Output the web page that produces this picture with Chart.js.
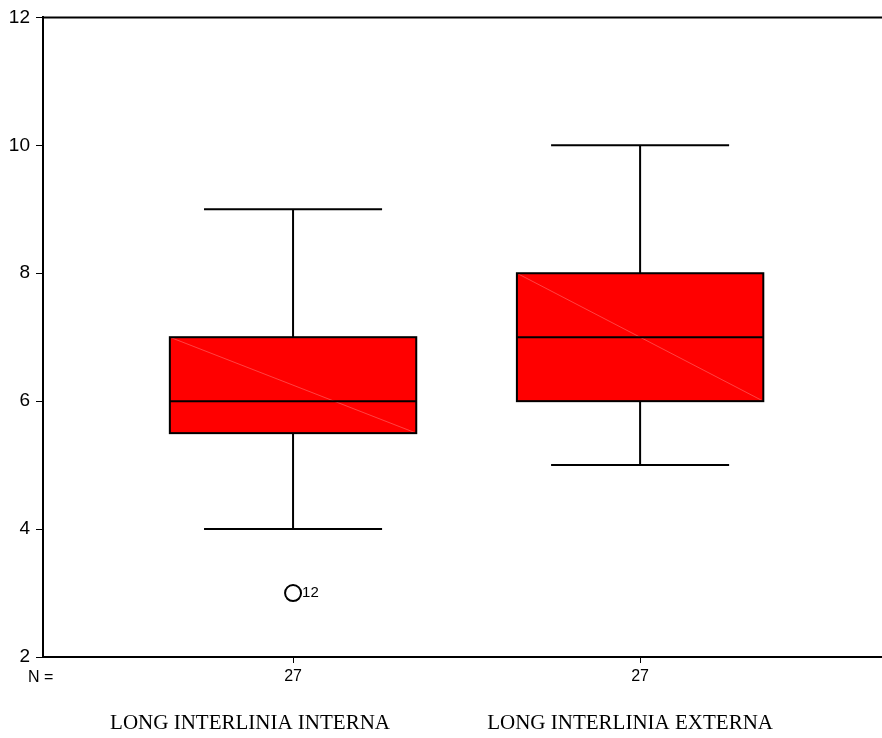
<!DOCTYPE html>
<html>
<head>
<meta charset="utf-8">
<script src="https://cdn.jsdelivr.net/npm/chart.js@4"></script>
<style>
    html, body { margin: 0; padding: 0; background: #fff; }
    #wrap { width: 882px; height: 738px; }
</style>
</head>
<body>
<div id="wrap"><canvas id="boxChart" width="882" height="738"></canvas></div>
<script>
// box plot summaries per group
const groups = ['LONG INTERLINIA INTERNA', 'LONG INTERLINIA EXTERNA'];
const counts = [27, 27];
const mins = [4, 5];
const q1s = [5.5, 6];
const medians = [6, 7];
const q3s = [7, 8];
const maxs = [9, 10];
// outliers: group index, value, case number
const outlierGroup = [0];
const outlierValue = [3];
const outlierCase = [12];
const yTicks = [2, 4, 6, 8, 10, 12];

const SANS = '"Liberation Sans", Arial, sans-serif';
const SERIF = '"Liberation Serif", "Times New Roman", serif';
const BOX_W = 0.71;   // box width in x units
const CAP_W = 0.513;  // whisker cap width in x units
const labelShift = [-43, -10];

const boxPlugin = {
    id: 'boxes',
    beforeDatasetsDraw(chart) {
        const ctx = chart.ctx;
        const xs = chart.scales.x, ys = chart.scales.y;
        ctx.save();
        ctx.strokeStyle = '#000';
        ctx.lineWidth = 2;
        groups.forEach((g, i) => {
            const cx = xs.getPixelForValue(i + 1);
            const half = (xs.getPixelForValue(1 + BOX_W / 2) - xs.getPixelForValue(1));
            const capHalf = (xs.getPixelForValue(1 + CAP_W / 2) - xs.getPixelForValue(1));
            const yMin = ys.getPixelForValue(mins[i]);
            const yQ1 = ys.getPixelForValue(q1s[i]);
            const yMed = ys.getPixelForValue(medians[i]);
            const yQ3 = ys.getPixelForValue(q3s[i]);
            const yMax = ys.getPixelForValue(maxs[i]);

            // whiskers and caps
            ctx.beginPath();
            ctx.moveTo(cx, yMax); ctx.lineTo(cx, yQ3);
            ctx.moveTo(cx, yQ1); ctx.lineTo(cx, yMin);
            ctx.moveTo(cx - capHalf, yMax); ctx.lineTo(cx + capHalf, yMax);
            ctx.moveTo(cx - capHalf, yMin); ctx.lineTo(cx + capHalf, yMin);
            ctx.stroke();

            // box
            ctx.fillStyle = '#ff0000';
            ctx.fillRect(cx - half, yQ3, half * 2, yQ1 - yQ3);
            // faint diagonal seam inside the fill
            ctx.save();
            ctx.strokeStyle = 'rgba(255,110,110,0.6)';
            ctx.lineWidth = 1;
            ctx.beginPath();
            ctx.moveTo(cx - half, yQ3);
            ctx.lineTo(cx + half, yQ1);
            ctx.stroke();
            ctx.restore();
            ctx.strokeRect(cx - half, yQ3, half * 2, yQ1 - yQ3);

            // median
            ctx.beginPath();
            ctx.moveTo(cx - half, yMed); ctx.lineTo(cx + half, yMed);
            ctx.stroke();
        });
        ctx.restore();
    },
    afterDraw(chart) {
        const ctx = chart.ctx;
        const xs = chart.scales.x, ys = chart.scales.y;
        const area = chart.chartArea;
        ctx.save();
        // top frame line
        ctx.strokeStyle = '#000';
        ctx.lineWidth = 2;
        ctx.beginPath();
        ctx.moveTo(area.left, area.top);
        ctx.lineTo(chart.width, area.top);
        ctx.stroke();

        // case labels next to outliers
        ctx.fillStyle = '#000';
        ctx.font = '15px ' + SANS;
        ctx.textAlign = 'left';
        ctx.textBaseline = 'middle';
        outlierValue.forEach((v, k) => {
            const px = xs.getPixelForValue(outlierGroup[k] + 1);
            const py = ys.getPixelForValue(v);
            ctx.fillText(String(outlierCase[k]), px + 9, py);
        });

        // N = row header
        ctx.font = '16px ' + SANS;
        ctx.textBaseline = 'alphabetic';
        ctx.fillText('N =', 28, 682);

        // group names
        ctx.font = '21px ' + SERIF;
        ctx.textAlign = 'center';
        groups.forEach((g, i) => {
            ctx.fillText(g, xs.getPixelForValue(i + 1) + labelShift[i], 729);
        });
        ctx.restore();
    }
};

new Chart(document.getElementById('boxChart'), {
    type: 'scatter',
    data: {
        datasets: [{
            data: outlierValue.map((v, k) => ({ x: outlierGroup[k] + 1, y: v })),
            pointStyle: 'circle',
            pointRadius: 8,
            pointBorderWidth: 2,
            pointBorderColor: '#000',
            pointBackgroundColor: '#fff'
        }]
    },
    options: {
        responsive: false,
        animation: false,
        layout: {
            autoPadding: false,
            padding: { top: 16, right: 0, left: 0, bottom: 0 }
        },
        plugins: {
            legend: { display: false },
            tooltip: { enabled: false }
        },
        scales: {
            x: {
                type: 'linear',
                min: 0.2795,
                max: 2.697,
                afterFit(scale) {
                    scale.height = 81;
                    scale.paddingLeft = 0;
                    scale.paddingRight = 0;
                },
                afterBuildTicks(scale) {
                    scale.ticks = counts.map((c, i) => ({ value: i + 1 }));
                },
                border: { color: '#000', width: 2 },
                grid: {
                    drawOnChartArea: false,
                    drawTicks: true,
                    tickLength: 6,
                    tickColor: '#000',
                    lineWidth: 1
                },
                ticks: {
                    autoSkip: false,
                    maxRotation: 0,
                    padding: 4,
                    color: '#000',
                    font: { family: SANS, size: 16 },
                    callback: (v) => String(counts[Math.round(v) - 1])
                }
            },
            y: {
                type: 'linear',
                min: 2,
                max: 12,
                afterFit(scale) { scale.width = 43; },
                afterBuildTicks(scale) {
                    scale.ticks = yTicks.map(v => ({ value: v }));
                },
                border: { color: '#000', width: 2 },
                grid: {
                    drawOnChartArea: false,
                    drawTicks: true,
                    tickLength: 7,
                    tickColor: '#000',
                    lineWidth: 1
                },
                ticks: {
                    padding: 6,
                    color: '#000',
                    font: { family: SANS, size: 19 }
                }
            }
        }
    },
    plugins: [boxPlugin]
});
</script>
</body>
</html>
